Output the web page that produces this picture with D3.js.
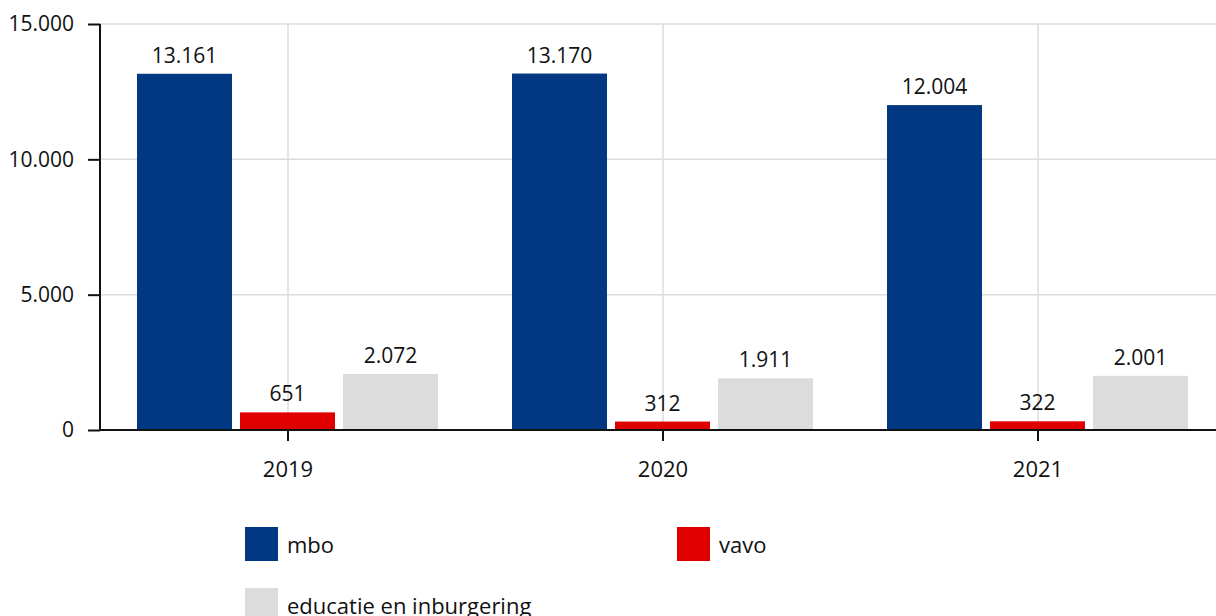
<!DOCTYPE html>
<html><head><meta charset="utf-8">
<script src="https://cdn.jsdelivr.net/npm/d3@7"></script>
<style>body{margin:0;background:#fff}svg{display:block;font-family:"Open Sans",sans-serif}</style>
</head><body><svg id="c" width="1216" height="616"></svg>
<script>
const years = ["2019","2020","2021"];
const series = ["mbo","vavo","educatie en inburgering"];
const mbo = [13161,13170,12004];
const vavo = [651,312,322];
const educatie = [2072,1911,2001];
const yTicks = [0,5000,10000,15000];
const colors = ["#023882","#e00000","#dcdcdc"];

const values = [mbo, vavo, educatie];
const fmt = v => d3.format(",")(v).replace(/,/g,".");
const svg = d3.select("#c");
const x0 = d3.scaleBand().domain(years).range([100.5,1225.5]);
const x1 = d3.scaleBand().domain(series).range([36.5,337.5]).paddingInner(8/103);
const y = d3.scaleLinear().domain([0,15000]).range([430,24]);

// gridlines
svg.append("g").selectAll("line").data(yTicks.slice(1)).join("line")
  .attr("x1",100).attr("x2",1216).attr("y1",d=>y(d)).attr("y2",d=>y(d))
  .attr("stroke","#dcdcdc").attr("stroke-width",1.5);
svg.append("g").selectAll("line").data(years).join("line")
  .attr("x1",d=>x0(d)+x0.bandwidth()/2).attr("x2",d=>x0(d)+x0.bandwidth()/2)
  .attr("y1",24).attr("y2",430).attr("stroke","#dcdcdc").attr("stroke-width",1.5);

// bars
const g = svg.append("g").selectAll("g").data(years).join("g")
  .attr("transform",d=>`translate(${x0(d)},0)`);
g.selectAll("rect").data((d,i)=>series.map((s,j)=>({s,v:values[j][i],j}))).join("rect")
  .attr("x",d=>x1(d.s)).attr("width",x1.bandwidth())
  .attr("y",d=>y(d.v)).attr("height",d=>430-y(d.v)).attr("fill",d=>colors[d.j]);
g.selectAll("text").data((d,i)=>series.map((s,j)=>({s,v:values[j][i],j}))).join("text")
  .attr("x",d=>x1(d.s)+x1.bandwidth()/2).attr("y",d=>y(d.v)-11)
  .attr("text-anchor","middle").attr("font-size",21).attr("fill","#111").text(d=>fmt(d.v));

// y axis
const ya = svg.append("g").attr("transform","translate(100,0)")
  .call(d3.axisLeft(y).tickValues(yTicks).tickFormat(fmt).tickSize(12).tickPadding(14));
ya.select(".domain").attr("stroke","#111").attr("stroke-width",2).attr("d","M0,24V430");
ya.selectAll(".tick line").attr("stroke","#111").attr("stroke-width",2);
ya.selectAll(".tick text").attr("font-size",21).attr("fill","#111").attr("font-family","Open Sans");

// x axis
const xa = svg.append("g").attr("transform","translate(0,430)")
  .call(d3.axisBottom(x0).tickSize(11).tickPadding(20));
xa.select(".domain").attr("stroke","#111").attr("stroke-width",2).attr("d","M100,0H1216");
xa.selectAll(".tick line").attr("stroke","#111").attr("stroke-width",2);
xa.selectAll(".tick text").attr("font-size",22).attr("fill","#111").attr("font-family","Open Sans");

// legend
const legPos = [[245,527],[677,527],[245,588]];
const lg = svg.append("g").selectAll("g").data(series).join("g")
  .attr("transform",(d,i)=>`translate(${legPos[i][0]},${legPos[i][1]})`);
lg.append("rect").attr("width",33).attr("height",34).attr("fill",(d,i)=>colors[i]);
lg.append("text").attr("x",42).attr("y",26).attr("font-size",22).attr("fill","#111").text(d=>d);
</script></body></html>
